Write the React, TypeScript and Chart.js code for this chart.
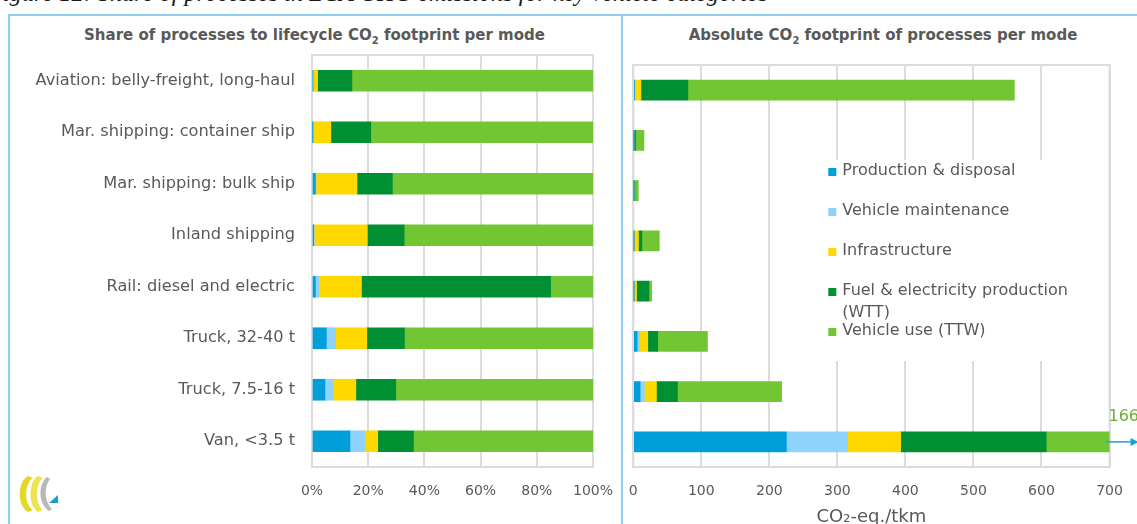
import React, { useEffect, useRef } from "react";
import { Chart, registerables } from "chart.js";

Chart.register(...registerables);

// ---------- data ----------
const categories = [
  "Aviation: belly-freight, long-haul",
  "Mar. shipping: container ship",
  "Mar. shipping: bulk ship",
  "Inland shipping",
  "Rail: diesel and electric",
  "Truck, 32-40 t",
  "Truck, 7.5-16 t",
  "Van, <3.5 t",
];

const processNames = [
  "Production & disposal",
  "Vehicle maintenance",
  "Infrastructure",
  "Fuel & electricity production (WTT)",
  "Vehicle use (TTW)",
];
const legendLines = [
  ["Production & disposal"],
  ["Vehicle maintenance"],
  ["Infrastructure"],
  ["Fuel & electricity production", "(WTT)"],
  ["Vehicle use (TTW)"],
];
const processColors = ["#009fda", "#8fd3fc", "#ffd800", "#008f33", "#72c633"];

// share of lifecycle footprint (%)
const shareProduction = [0.3, 0.2, 1.2, 0.6, 1.2, 5.1, 4.6, 13.5];
const shareMaintenance = [0.2, 0.3, 0.2, 0.2, 1.2, 3.3, 2.9, 5.3];
const shareInfrastructure = [1.5, 6.2, 14.6, 18.9, 15.2, 11.1, 8.1, 4.6];
const shareWTT = [12.2, 14.2, 12.6, 13.1, 67.3, 13.4, 14.2, 12.7];
const shareTTW = [85.8, 79.1, 71.4, 67.2, 15.1, 67.1, 70.2, 63.9];

// absolute footprint (g CO2-eq./tkm)
const absProduction = [1.7, 0.03, 0.09, 0.25, 0.32, 5.6, 10, 225];
const absMaintenance = [1.1, 0.05, 0.02, 0.08, 0.32, 3.6, 6.3, 90];
const absInfrastructure = [8.4, 1.0, 1.08, 7.2, 4.1, 12.1, 17.7, 78];
const absWTT = [69, 2.2, 0.93, 5.0, 18.2, 14.6, 31, 214];
const absTTW = [480, 12.4, 5.3, 25.7, 4.1, 73.1, 153, 1062];

const shareMax = 100;
const shareStep = 20;
const absMax = 700;
const absStep = 100;

const caption = "Figure 12: Share of processes in LCA GHG emissions for key vehicle categories";
const xTitleRight = "CO\u2082-eq./tkm";

// ---------- style ----------
const FONT = "'DejaVu Sans', Verdana, sans-serif";
const TEXT = "#595959";
const GRID = "#dcdcdc";
const FRAME = "#8dd0ef";

function makeDatasets(series: number[][], thickness: number, clip?: number) {
  return series.map((data, i) => {
    const ds: any = {
      label: processNames[i],
      data,
      backgroundColor: processColors[i],
      borderWidth: 0,
      barThickness: thickness,
    };
    if (clip !== undefined) ds.clip = clip;
    return ds;
  });
}

const frameDecor = {
  id: "frameDecor",
  beforeDatasetsDraw(chart: any) {
    const { ctx, chartArea: a } = chart;
    ctx.save();
    if (chart.options.plugins.frameDecor && chart.options.plugins.frameDecor.legend) {
      ctx.fillStyle = "#ffffff";
      ctx.fillRect(a.left + 142, a.top + 95, 330, 201);
    }
    ctx.strokeStyle = GRID;
    ctx.lineWidth = 2;
    ctx.strokeRect(a.left, a.top, a.right - a.left, a.bottom - a.top);
    ctx.restore();
  },
  afterDatasetsDraw(chart: any) {
    const opts = chart.options.plugins.frameDecor;
    if (!opts || !opts.legend) return;
    const { ctx, chartArea: a } = chart;
    ctx.save();
    // legend
    const x0 = a.left + 195;
    let y = a.top + 106;
    ctx.font = `16px ${FONT}`;
    ctx.textBaseline = "middle";
    ctx.textAlign = "left";
    legendLines.forEach((lines, i) => {
      ctx.fillStyle = processColors[i];
      ctx.fillRect(x0, y - 3, 8, 8);
      ctx.fillStyle = TEXT;
      lines.forEach((ln, j) => ctx.fillText(ln, x0 + 14, y + j * 21.5));
      y += 40;
    });
    // truncation marker for the last category
    const xs = chart.scales.x;
    const ys = chart.scales.y;
    const last = categories.length - 1;
    const total = chart.data.datasets.reduce((s: number, d: any) => s + d.data[last], 0);
    const xEnd = xs.getPixelForValue(absMax);
    const yBar = ys.getPixelForValue(last);
    ctx.strokeStyle = "#1a9fdc";
    ctx.fillStyle = "#1a9fdc";
    ctx.lineWidth = 1.5;
    ctx.beginPath();
    ctx.moveTo(xEnd - 3, yBar);
    ctx.lineTo(xEnd + 24, yBar);
    ctx.stroke();
    ctx.beginPath();
    ctx.moveTo(xEnd + 21, yBar - 4);
    ctx.lineTo(xEnd + 29, yBar);
    ctx.lineTo(xEnd + 21, yBar + 4);
    ctx.closePath();
    ctx.fill();
    ctx.fillStyle = "#6cae38";
    ctx.font = `16px ${FONT}`;
    ctx.fillText(String(Math.round(total)), xEnd - 1, yBar - 25);
    ctx.restore();
  },
};

const xGrid = {
  color: GRID,
  lineWidth: 2,
  drawTicks: true,
  tickLength: 16,
  tickColor: "rgba(0,0,0,0)",
};

function LeftChart() {
  const ref = useRef<HTMLCanvasElement>(null);
  useEffect(() => {
    const chart = new Chart(ref.current as HTMLCanvasElement, {
      type: "bar",
      data: {
        labels: categories,
        datasets: makeDatasets(
          [shareProduction, shareMaintenance, shareInfrastructure, shareWTT, shareTTW],
          21
        ),
      },
      plugins: [frameDecor],
      options: {
        indexAxis: "y",
        responsive: false,
        animation: false,
        layout: { padding: { top: 39, right: 27, bottom: 0, left: 0 } },
        plugins: {
          legend: { display: false },
          title: { display: false },
          tooltip: { enabled: false },
          frameDecor: { legend: false },
        } as any,
        scales: {
          x: {
            stacked: true,
            min: 0,
            max: shareMax,
            ticks: {
              stepSize: shareStep,
              callback: (v: any) => v + "%",
              color: TEXT,
              font: { family: FONT, size: 14 },
              padding: 0,
              maxRotation: 0,
            },
            grid: xGrid,
            border: { display: false },
            afterFit: (s: any) => {
              s.height = 69;
            },
          },
          y: {
            stacked: true,
            ticks: { color: TEXT, font: { family: FONT, size: 16.2 }, padding: 17 },
            grid: { display: false, drawTicks: false },
            border: { display: false },
            afterFit: (s: any) => {
              s.width = 302;
            },
          },
        },
      } as any,
    });
    return () => chart.destroy();
  }, []);
  return (
    <canvas
      ref={ref}
      width={610}
      height={520}
      style={{ position: "absolute", left: 10, top: 16, width: 610, height: 520 }}
    />
  );
}

function RightChart() {
  const ref = useRef<HTMLCanvasElement>(null);
  useEffect(() => {
    const chart = new Chart(ref.current as HTMLCanvasElement, {
      type: "bar",
      data: {
        labels: categories,
        datasets: makeDatasets(
          [absProduction, absMaintenance, absInfrastructure, absWTT, absTTW],
          20,
          0
        ),
      },
      plugins: [frameDecor],
      options: {
        indexAxis: "y",
        responsive: false,
        animation: false,
        layout: { padding: { top: 49, right: 27.5, bottom: 0, left: 0 } },
        plugins: {
          legend: { display: false },
          title: { display: false },
          tooltip: { enabled: false },
          frameDecor: { legend: true },
        } as any,
        scales: {
          x: {
            stacked: true,
            min: 0,
            max: absMax,
            ticks: {
              stepSize: absStep,
              color: TEXT,
              font: { family: FONT, size: 14 },
              padding: 0,
              maxRotation: 0,
            },
            grid: xGrid,
            border: { display: false },
            title: {
              display: true,
              text: xTitleRight,
              color: TEXT,
              font: { family: FONT, size: 18 },
              padding: { top: 0, bottom: 8 },
            },
            afterFit: (s: any) => {
              s.height = 69;
            },
          },
          y: {
            stacked: true,
            ticks: { display: false },
            grid: { display: false, drawTicks: false },
            border: { display: false },
            afterFit: (s: any) => {
              s.width = 9.3;
            },
          },
        },
      } as any,
    });
    return () => chart.destroy();
  }, []);
  return (
    <canvas
      ref={ref}
      width={513}
      height={520}
      style={{ position: "absolute", left: 624, top: 16, width: 513, height: 520 }}
    />
  );
}

function PanelTitle({ cx, children }: { cx: number; children: any }) {
  return (
    <div
      style={{
        position: "absolute",
        left: cx - 300,
        width: 600,
        top: 26,
        height: 20,
        lineHeight: "20px",
        textAlign: "center",
        font: `bold 15px ${FONT}`,
        color: TEXT,
        whiteSpace: "nowrap",
      }}
    >
      {children}
    </div>
  );
}

const Sub2 = () => (
  <span style={{ fontSize: "10px", position: "relative", top: 4 }}>2</span>
);

export default function App() {
  return (
    <div
      style={{
        position: "absolute",
        left: 0,
        top: 0,
        width: 1137,
        height: 524,
        overflow: "hidden",
        background: "#ffffff",
      }}
    >
      <div
        style={{
          position: "absolute",
          left: -12,
          top: -19,
          font: "italic 24.3px 'Liberation Serif', serif",
          lineHeight: "24px",
          whiteSpace: "nowrap",
          color: "#1a1a1a",
        }}
      >
        {caption}
      </div>
      <div style={{ position: "absolute", left: 8, top: 14, width: 1129, height: 2, background: FRAME }} />
      <div style={{ position: "absolute", left: 8, top: 14, width: 2, height: 510, background: FRAME }} />
      <div style={{ position: "absolute", left: 621, top: 14, width: 2, height: 510, background: FRAME }} />

      <PanelTitle cx={314.5}>
        Share of processes to lifecycle CO<Sub2 /> footprint per mode
      </PanelTitle>
      <PanelTitle cx={883}>
        Absolute CO<Sub2 /> footprint of processes per mode
      </PanelTitle>

      <LeftChart />
      <RightChart />

      <svg
        style={{ position: "absolute", left: 16, top: 474 }}
        width="44"
        height="40"
        viewBox="0 0 44 40"
      >
        <path d="M12 2 C1 8, 1 32, 12 38 L17 36 C8 30, 8 10, 17 4 Z" fill="#e4d827" />
        <path d="M22 2 C12 8, 12 32, 22 38 L27 36 C19 30, 19 10, 27 4 Z" fill="#efe352" />
        <path d="M31 3 C22 10, 22 30, 33 37 L36 35 C28 28, 28 12, 34 5 Z" fill="#b8b8b8" />
        <path d="M33 29 L42 21 L42 29 Z" fill="#1a9ad6" />
      </svg>
    </div>
  );
}
